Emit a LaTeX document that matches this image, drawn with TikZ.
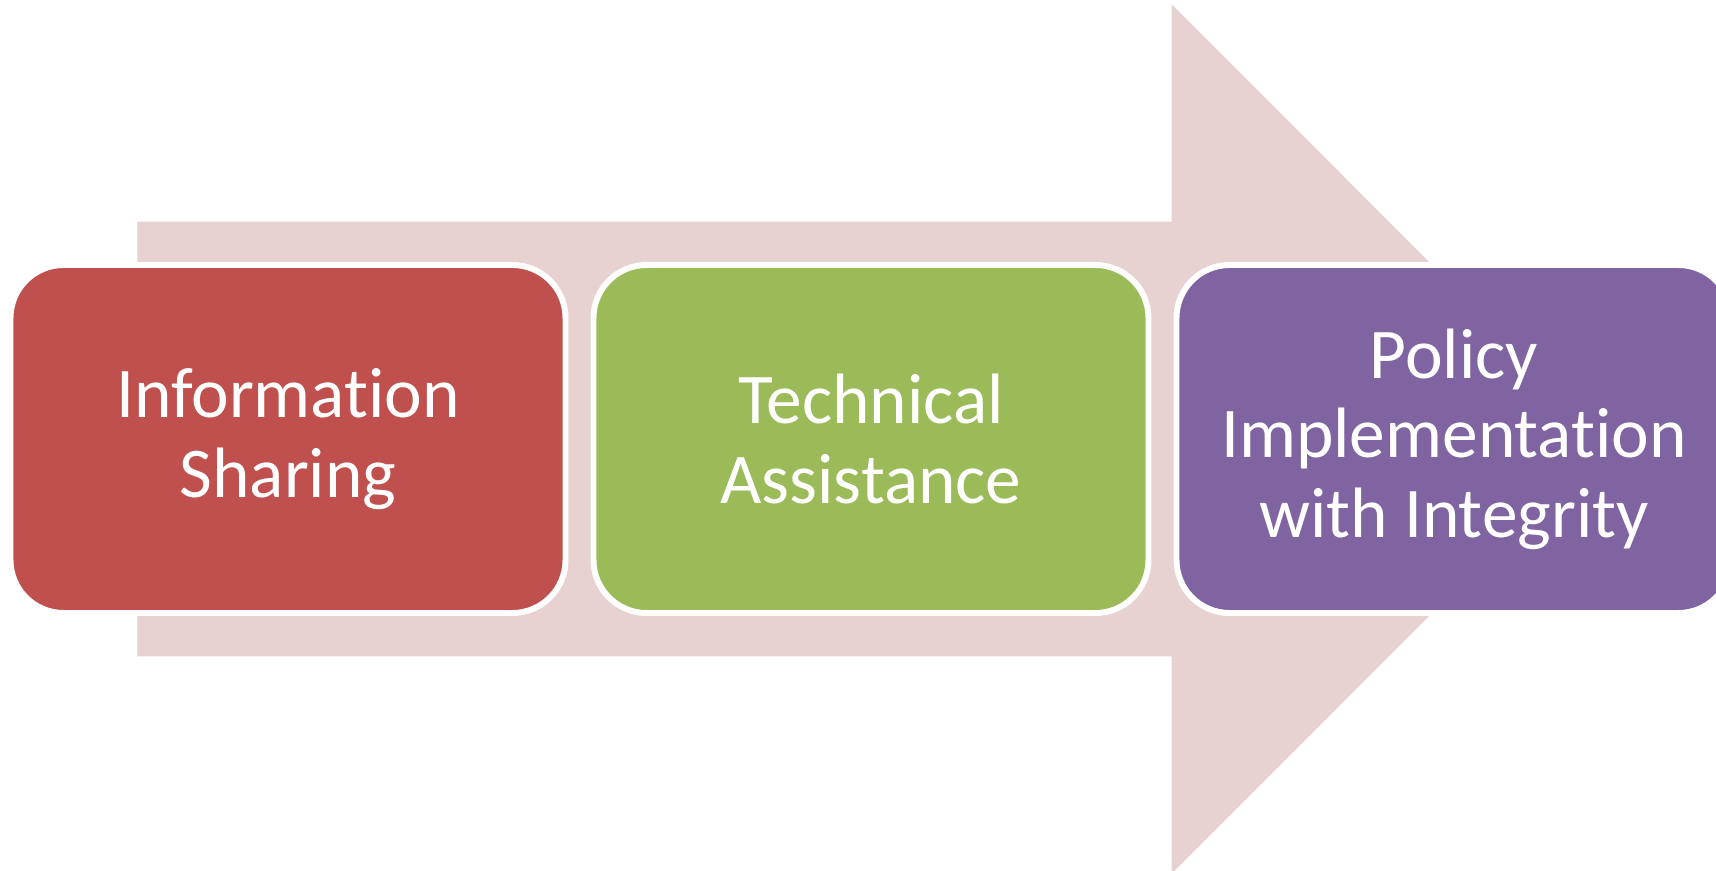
\documentclass[tikz,border=0pt]{standalone}
\usepackage{fontspec}
\setmainfont[Ligatures=NoCommon]{Carlito}

\definecolor{bandpink}{RGB}{231,209,209}
\definecolor{stagered}{RGB}{192,80,77}
\definecolor{stagegreen}{RGB}{155,187,89}
\definecolor{stagepurple}{RGB}{128,100,162}

\begin{document}
\begin{tikzpicture}[stage/.style={draw=white, line width=1.7pt, rounded corners=0.53cm,
    minimum width=5.55cm, minimum height=3.48cm, align=center, text=white,
    font=\fontsize{20.3}{22.6}\selectfont}]

\useasboundingbox (0,0) rectangle (17.16,8.71);
\clip (0,0) rectangle (17.16,8.71);

% big arrow behind the stages
\fill[fill=bandpink] (1.373,6.493) -- (11.717,6.493) -- (11.717,8.667) -- (16.06,4.32)
  -- (11.717,-0.027) -- (11.717,2.147) -- (1.373,2.147) -- cycle;

\node[stage, fill=stagered] (info) at (2.88,4.32) {Information\\Sharing};
\node[stage, fill=stagegreen] (tech) at (8.71,4.32) {Technical\\Assistance};
\node[stage, fill=stagepurple] (policy) at (14.54,4.32) {Policy\\Implementation\\with Integrity};

\end{tikzpicture}
\end{document}
